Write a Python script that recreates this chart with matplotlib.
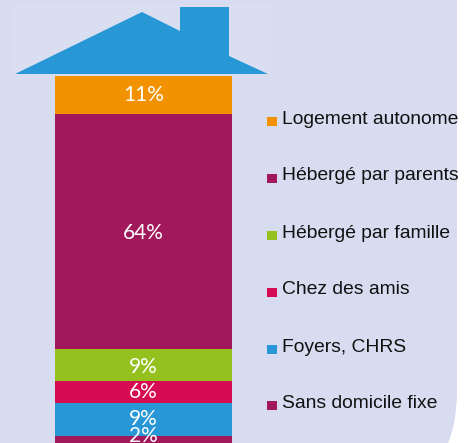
import matplotlib
matplotlib.use("Agg")
import matplotlib.pyplot as plt
from matplotlib.patches import PathPatch, Polygon, Rectangle
from matplotlib.path import Path

# top of the house to the ground
categories = ["Logement autonome", "Hébergé par parents", "Hébergé par famille",
              "Chez des amis", "Foyers, CHRS", "Sans domicile fixe"]
values = [11, 64, 9, 6, 9, 2]
colors = ["#F39200", "#A2195B", "#95C11F", "#D60B52", "#2897D5", "#A2195B"]

W, H = 473, 443
BG = "#D8DCF0"
ROOF_BG = "#DADEF1"
HOUSE = "#2897D5"

fig = plt.figure(figsize=(W / 100, H / 100), dpi=100, facecolor="white")

# pixel canvas for the panel, the roof and the legend
bg = fig.add_axes([0, 0, 1, 1])
bg.set_xlim(0, W)
bg.set_ylim(H, 0)
bg.axis("off")

panel = Path([(0, 0), (457, 0), (457, 395), (456, 425), (448, 443), (0, 443), (0, 0)],
             [Path.MOVETO, Path.LINETO, Path.LINETO, Path.CURVE3, Path.CURVE3, Path.LINETO, Path.CLOSEPOLY])
bg.add_patch(PathPatch(panel, fc=BG, ec="none"))
bg.add_patch(Rectangle((13, 5), 259, 70, fc=ROOF_BG, ec="none"))
house = [(15, 74), (142, 12), (180, 31), (180, 7), (229, 7), (229, 56), (268, 74)]
bg.add_patch(Polygon(house, closed=True, fc=HOUSE, ec="none"))

# legend
rows = [121, 178, 235, 292, 349, 405]
for name, c, y in zip(categories, colors, rows):
    bg.add_patch(Rectangle((267, y - 4.5), 10, 9.5, fc=c, ec="none"))
    bg.text(282, y - 2, name, family="Liberation Sans", fontsize=13.85, color="#111111",
            va="center", ha="left")

# stacked bar, y runs 0 at the ground up to the clipped roof line
ax = fig.add_axes([55 / W, 0, 177 / W, (H - 76) / H])
ax.patch.set_alpha(0)
ax.axis("off")
ax.set_xlim(-0.5, 0.5)
ax.set_ylim(0.2, 100.4)

# small shifts (points) so the labels sit where the original has them
nudge = [0, -1.5, -1.5, 0, 1, 2.5]

bottom = 0
for name, v, c, dy in zip(reversed(categories), reversed(values), reversed(colors), reversed(nudge)):
    bars = ax.bar(0, v, width=1, bottom=bottom, color=c, linewidth=0)
    lab = ax.bar_label(bars, labels=[f"{v}%"], label_type="center", color="white",
                       family="Lato", fontsize=15)[0]
    lab.xyann = (lab.xyann[0], lab.xyann[1] + dy)
    bottom += v

fig.savefig("out.png", dpi=100, facecolor="white")
